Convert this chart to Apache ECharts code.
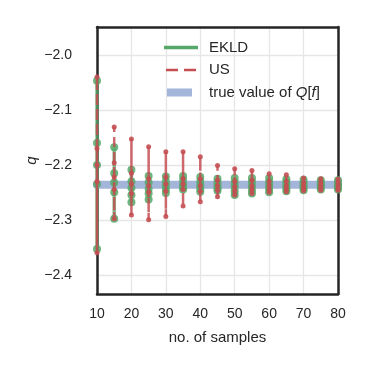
<!DOCTYPE html>
<html>
<head>
<meta charset="utf-8">
<script src="https://cdn.jsdelivr.net/npm/echarts@6.0.0/dist/echarts.min.js"></script>
<style>
  html, body { margin: 0; padding: 0; background: #fff; }
  #chart { width: 373px; height: 373px; }
</style>
</head>
<body>
<div id="chart"></div>
<script>
// sample sizes on the x axis
var nSamples = [10, 15, 20, 25, 30, 35, 40, 45, 50, 55, 60, 65, 70, 75, 80]

// repeated estimates of q for each sample size, in trial order
var ekldRuns = [
  [-2.200, -2.047, -2.235, -2.353, -2.160],
  [-2.232, -2.168, -2.250, -2.298, -2.215],
  [-2.242, -2.209, -2.255, -2.268, -2.230],
  [-2.244, -2.220, -2.252, -2.263, -2.232],
  [-2.238, -2.221, -2.245, -2.251, -2.230],
  [-2.236, -2.220, -2.241, -2.245, -2.228],
  [-2.238, -2.222, -2.244, -2.249, -2.230],
  [-2.238, -2.225, -2.243, -2.247, -2.232],
  [-2.240, -2.224, -2.248, -2.255, -2.232],
  [-2.239, -2.224, -2.246, -2.252, -2.231],
  [-2.238, -2.224, -2.244, -2.250, -2.231],
  [-2.238, -2.226, -2.243, -2.248, -2.232],
  [-2.238, -2.227, -2.242, -2.246, -2.233],
  [-2.237, -2.228, -2.241, -2.245, -2.233],
  [-2.237, -2.228, -2.241, -2.245, -2.233]
]

var usRuns = [
  [-2.200, -2.040, -2.230, -2.360, -2.170],
  [-2.222, -2.131, -2.245, -2.298, -2.196],
  [-2.235, -2.153, -2.252, -2.291, -2.215],
  [-2.238, -2.167, -2.250, -2.300, -2.225],
  [-2.235, -2.176, -2.248, -2.294, -2.222],
  [-2.235, -2.176, -2.245, -2.275, -2.225],
  [-2.238, -2.185, -2.248, -2.267, -2.225],
  [-2.238, -2.201, -2.246, -2.258, -2.228],
  [-2.240, -2.207, -2.247, -2.255, -2.230],
  [-2.238, -2.210, -2.245, -2.252, -2.228],
  [-2.238, -2.216, -2.245, -2.250, -2.230],
  [-2.238, -2.218, -2.244, -2.249, -2.230],
  [-2.238, -2.224, -2.243, -2.247, -2.232],
  [-2.237, -2.225, -2.242, -2.246, -2.232],
  [-2.237, -2.226, -2.242, -2.246, -2.232]
]

var trueValue = -2.236

var xTicks = [10, 20, 30, 40, 50, 60, 70, 80]
var yRange = [-2.435, -1.949]

var textColor = '#262626'
var gridColor = '#e6e6e6'
var fontFamily = '"Liberation Sans", Arial, sans-serif'

// vertical segments per sample size, broken by empty points
function columnLines (runs) {
  var out = []
  nSamples.forEach(function (n, i) {
    runs[i].forEach(function (v) { out.push([n, v]) })
    out.push([n, '-'])
  })
  return out
}

function columnPoints (runs) {
  var out = []
  nSamples.forEach(function (n, i) {
    runs[i].forEach(function (v) { out.push([n, v]) })
  })
  return out
}

function frameAxis (extra) {
  return Object.assign({
    type: 'value',
    axisLine: { show: true, onZero: false, lineStyle: { color: textColor, width: 2.5 } },
    axisTick: { show: false },
    axisLabel: { show: false },
    splitLine: { show: false }
  }, extra)
}

function initChart () {
  var chart = echarts.init(document.getElementById('chart'), null, { renderer: 'canvas' })
  chart.setOption({
    backgroundColor: '#fff',
    animation: false,
    textStyle: { fontFamily: fontFamily, color: textColor },
    grid: {
      left: 97,
      right: 35,
      top: 27,
      bottom: 79
    },
    legend: {
      data: [
        { name: 'EKLD', icon: 'path://M0,0h34v3.5h-34z' },
        { name: 'US', icon: 'path://M0,1h0.01v0.01h-0.01z M2,0h12v2.5h-12z M20,0h12v2.5h-12z M33.99,1h0.01v0.01h-0.01z' },
        { name: 'true value of Q[f]', icon: 'path://M0,3h0.01v0.01h-0.01z M3,0h25v8h-25z M33.99,3h0.01v0.01h-0.01z' }
      ],
      orient: 'vertical',
      left: 164,
      top: 40,
      padding: 0,
      itemWidth: 34,
      itemHeight: 14,
      itemGap: 7.5,
      symbolKeepAspect: true,
      textStyle: {
        fontSize: 15,
        lineHeight: 14,
        color: textColor,
        fontFamily: fontFamily,
        padding: [0, 0, 0, 6],
        rich: {
          i: { fontStyle: 'italic', fontSize: 15, lineHeight: 14, color: textColor, fontFamily: fontFamily }
        }
      },
      formatter: function (name) {
        if (name === 'true value of Q[f]') return 'true value of {i|Q}[{i|f}]'
        return name
      }
    },
    xAxis: [
      {
        type: 'value',
        min: xTicks[0],
        max: xTicks[xTicks.length - 1],
        interval: 10,
        name: 'no. of samples',
        nameLocation: 'middle',
        nameGap: 36,
        nameMoveOverlap: false,
        nameTextStyle: { fontSize: 15, color: textColor, fontFamily: fontFamily },
        axisLine: { show: true, onZero: false, lineStyle: { color: textColor, width: 2.5 } },
        axisTick: { show: false },
        axisLabel: { fontSize: 14, color: textColor, margin: 13 },
        splitLine: { lineStyle: { color: gridColor, width: 1.3 } }
      },
      frameAxis({ position: 'top', min: xTicks[0], max: xTicks[xTicks.length - 1] })
    ],
    yAxis: [
      {
        type: 'value',
        min: yRange[0],
        max: yRange[1],
        splitNumber: 5,
        name: 'q',
        nameLocation: 'middle',
        nameGap: 58,
        nameMoveOverlap: false,
        nameTextStyle: { fontSize: 15, fontStyle: 'italic', color: textColor, fontFamily: fontFamily },
        axisLine: { show: true, onZero: false, lineStyle: { color: textColor, width: 2.5 } },
        axisTick: { show: false },
        axisLabel: {
          fontSize: 14,
          color: textColor,
          margin: 25,
          showMinLabel: false,
          showMaxLabel: false,
          formatter: function (v) {
            if (Math.abs(v * 10 - Math.round(v * 10)) > 1e-6) return ''
            return v.toFixed(1).replace('-', '\u2212')
          }
        },
        splitLine: { lineStyle: { color: gridColor, width: 1.3 } }
      },
      frameAxis({ position: 'right', min: yRange[0], max: yRange[1] })
    ],
    series: [
      {
        name: 'true value of Q[f]',
        type: 'line',
        symbol: 'none',
        data: [[xTicks[0], trueValue], [xTicks[xTicks.length - 1], trueValue]],
        lineStyle: { color: '#a4b5da', width: 8, cap: 'round' },
        itemStyle: { color: '#a4b5da' },
        z: 1
      },
      {
        name: 'EKLD',
        type: 'line',
        symbol: 'none',
        connectNulls: false,
        data: columnLines(ekldRuns),
        lineStyle: { color: '#55a868', width: 3.5, opacity: 0.75 },
        itemStyle: { color: '#55a868' },
        z: 2
      },
      {
        name: 'EKLD points',
        type: 'scatter',
        symbol: 'circle',
        symbolSize: 8,
        data: columnPoints(ekldRuns),
        itemStyle: { color: '#55a868', opacity: 0.85 },
        z: 3
      },
      {
        name: 'US',
        type: 'line',
        symbol: 'none',
        connectNulls: false,
        data: columnLines(usRuns),
        lineStyle: { color: '#c44e52', width: 2.5, type: [10, 5], opacity: 0.85 },
        itemStyle: { color: '#c44e52' },
        z: 4
      },
      {
        name: 'US points',
        type: 'scatter',
        symbol: 'circle',
        symbolSize: 5,
        data: columnPoints(usRuns),
        itemStyle: { color: '#c44e52', opacity: 0.9 },
        z: 5
      }
    ]
  })
}

initChart()
</script>
</body>
</html>
